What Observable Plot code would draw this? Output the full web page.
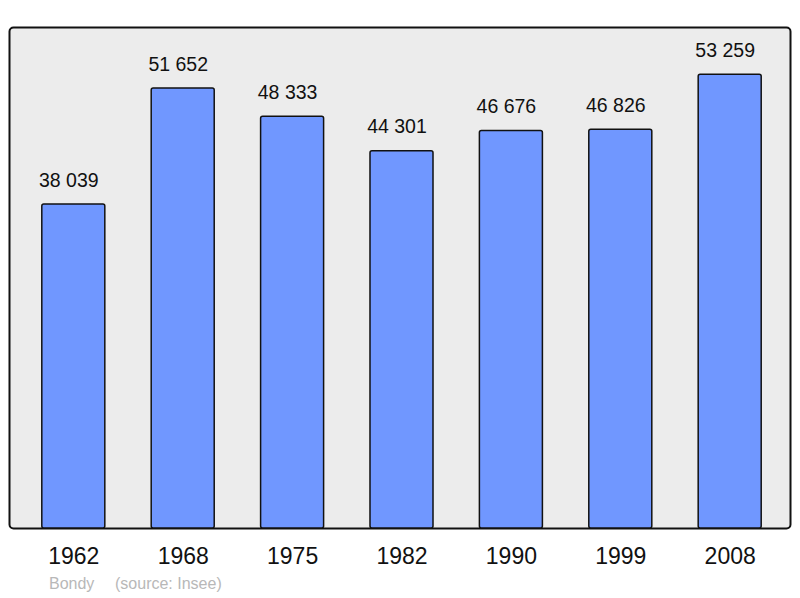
<!DOCTYPE html>
<html><head><meta charset="utf-8">
<script src="https://cdn.jsdelivr.net/npm/d3@7"></script>
<script src="https://cdn.jsdelivr.net/npm/@observablehq/plot@0.6"></script>
<style>
body{margin:0;background:#fff;font-family:"Liberation Sans",Arial,sans-serif;}
#cap{position:relative;height:30px;color:#b8b8b8;font-size:16px;}
#cap span{position:absolute;top:7px;}
</style></head>
<body><div id="chart"></div><div id="cap"><span style="left:49px">Bondy</span><span style="left:115px">(source: Insee)</span></div>
<script>
const years = ["1962","1968","1975","1982","1990","1999","2008"];
const population = [38039,51652,48333,44301,46676,46826,53259];
const data = years.map((y,i)=>({year:y, pop:population[i]}));
const fmt = d3.formatLocale({thousands:" ", grouping:[3], decimal:","}).format(",d");
const chart = Plot.plot({
  width:800, height:568,
  marginTop:27, marginBottom:40, marginLeft:9, marginRight:10,
  style:{fontFamily:"Liberation Sans, Arial, sans-serif", background:"transparent"},
  x:{domain:years, range:[41.8,761.2], paddingInner:0.424, paddingOuter:0, round:false, label:null},
  y:{domain:[0,58817], axis:null},
  marks:[
    Plot.frame({fill:"#ececec", stroke:"#111", strokeWidth:2, rx:4}),
    Plot.barY(data,{x:"year", y:"pop", fill:"#7097ff", stroke:"#111", strokeWidth:1.5, rx:2}),
    Plot.text(data,{x:"year", y:"pop", text:d=>fmt(d.pop), dx:-5, dy:-24, lineAnchor:"middle", fontSize:19.5, fill:"#111"}),
    Plot.axisX({tickSize:0, tickPadding:19, fontSize:23, color:"#111"})
  ]
});
document.getElementById("chart").appendChild(chart);
</script></body></html>
